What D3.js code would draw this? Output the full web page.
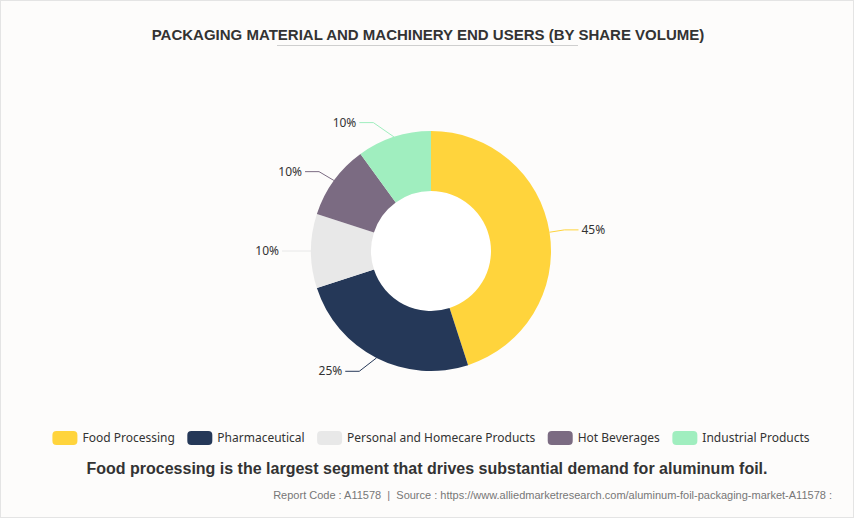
<!DOCTYPE html>
<html>
<head>
<meta charset="utf-8">
<script src="https://cdn.jsdelivr.net/npm/d3@7/dist/d3.min.js"></script>
<style>
  html, body { margin: 0; padding: 0; background: #fdfcfb; }
  svg { display: block; }
</style>
</head>
<body>
<script>
const categories = ["Food Processing", "Pharmaceutical", "Personal and Homecare Products", "Hot Beverages", "Industrial Products"];
const shares = [45, 25, 10, 10, 10];
const colors = ["#ffd43c", "#253858", "#e8e8e8", "#7b6b82", "#a0eebf"];
const titleText = "PACKAGING MATERIAL AND MACHINERY END USERS (BY SHARE VOLUME)";
const subtitleText = "Food processing is the largest segment that drives substantial demand for aluminum foil.";
const footerText = "Report Code : A11578  |  Source : https://www.alliedmarketresearch.com/aluminum-foil-packaging-market-A11578 :";

const W = 854, H = 518;
const cx = 431, cy = 251, rOuter = 120, rInner = 60;
const len1 = 15, len2 = 14, rB = 142;

const svg = d3.select("body").append("svg").attr("width", W).attr("height", H);
svg.append("rect").attr("x", 0.5).attr("y", 0.5).attr("width", W - 1).attr("height", H - 1)
  .attr("fill", "#fdfcfb").attr("stroke", "#e4e4e4");

// Title
svg.append("text").attr("x", 428).attr("y", 40).attr("text-anchor", "middle")
  .attr("font-family", "Liberation Sans, Arial, sans-serif").attr("font-weight", "bold")
  .attr("font-size", 15).attr("fill", "#333").text(titleText);
svg.append("line").attr("x1", 277).attr("x2", 578).attr("y1", 45.5).attr("y2", 45.5)
  .attr("stroke", "#cfcfcf").attr("stroke-width", 1);

const data = categories.map((c, i) => ({ name: c, value: shares[i], color: colors[i] }));
const pie = d3.pie().value(d => d.value).sort(null);
const arcs = pie(data);
const arc = d3.arc().innerRadius(rInner).outerRadius(rOuter);

const g = svg.append("g").attr("transform", `translate(${cx},${cy})`);
g.append("circle").attr("r", rInner).attr("fill", "#ffffff");
g.selectAll("path.slice").data(arcs).join("path").attr("class", "slice")
  .attr("d", arc).attr("fill", d => d.data.color);

// Labels with leader lines
arcs.forEach(a => {
  const mid = (a.startAngle + a.endAngle) / 2;
  const sx = Math.sin(mid), sy = -Math.cos(mid);
  const p0 = [sx * rOuter, sy * rOuter];
  const rA = rOuter + len1;
  const ey = sy * rA;
  const dir = sx >= 0 ? 1 : -1;
  const ex = dir * Math.sqrt(Math.max(0, 1 - (ey * ey) / (rB * rB))) * rA;
  const p2 = [ex + dir * len2, ey];
  g.append("polyline")
    .attr("points", [p0, [ex, ey], p2].map(p => p.join(",")).join(" "))
    .attr("fill", "none").attr("stroke", a.data.color).attr("stroke-width", 1);
  g.append("text").attr("x", p2[0] + dir * 3).attr("y", ey).attr("dy", "0.35em")
    .attr("text-anchor", dir > 0 ? "start" : "end")
    .attr("font-family", "Noto Sans, sans-serif").attr("font-size", 12).attr("fill", "#333")
    .text(a.data.value + "%");
});

// Legend
const legend = svg.append("g");
const itemW = 25, itemH = 14, textPad = 5, gap = 12.5;
let x = 0;
data.forEach(d => {
  const it = legend.append("g");
  it.append("rect").attr("x", 0).attr("y", -itemH / 2).attr("width", itemW).attr("height", itemH)
    .attr("rx", 4).attr("fill", d.color);
  const t = it.append("text").attr("x", itemW + textPad).attr("y", 0).attr("dy", "0.35em")
    .attr("font-family", "Noto Sans, sans-serif").attr("font-size", 12).attr("fill", "#333").text(d.name);
  const w = itemW + textPad + t.node().getComputedTextLength();
  it.attr("transform", `translate(${x},0)`);
  x += w + gap;
});
const totalW = x - gap;
legend.attr("transform", `translate(${431 - totalW / 2},438)`);

// Subtitle
svg.append("text").attr("x", 427).attr("y", 474).attr("text-anchor", "middle")
  .attr("font-family", "Liberation Sans, Arial, sans-serif").attr("font-weight", "bold")
  .attr("font-size", 16).attr("fill", "#333").text(subtitleText);

// Footer
svg.append("text").attr("x", 832).attr("y", 499).attr("text-anchor", "end")
  .attr("font-family", "Liberation Sans, Arial, sans-serif")
  .attr("font-size", 11).attr("fill", "#777")
  .style("white-space", "pre").text(footerText);
</script>
</body>
</html>
